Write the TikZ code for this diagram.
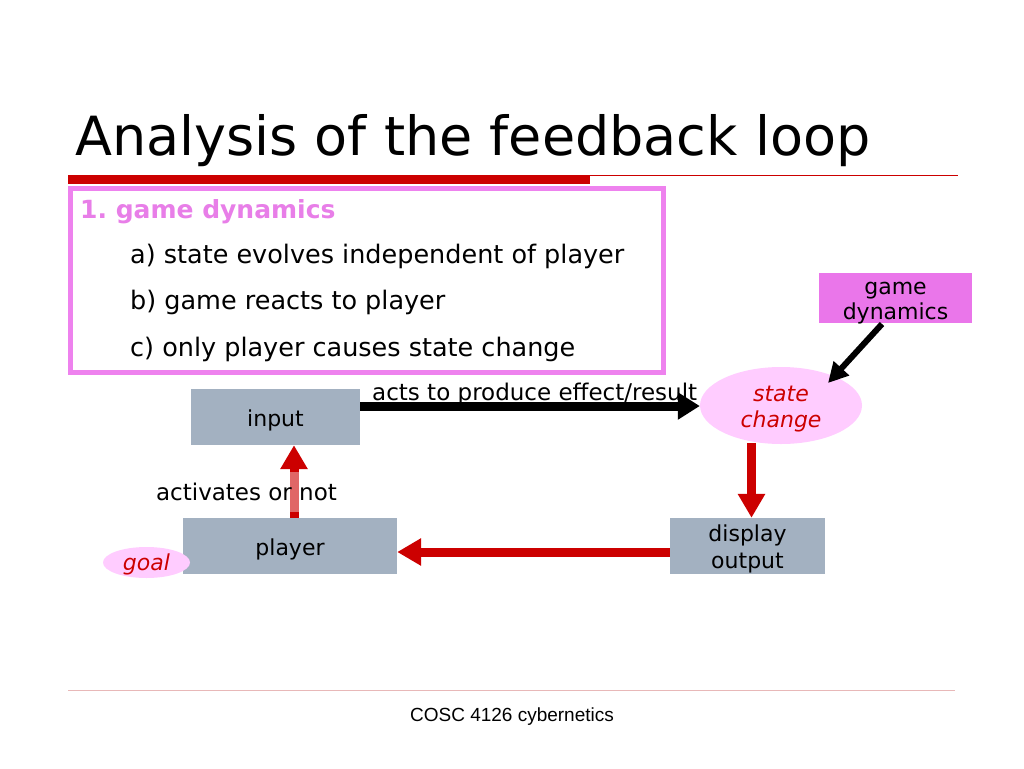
\documentclass[tikz,border=0pt]{standalone}
\usepackage{fontspec}
\setmainfont{DejaVu Sans}
\newfontfamily\footfont{Liberation Sans}
\usetikzlibrary{arrows.meta,shapes.geometric}
\frenchspacing
\definecolor{myred}{HTML}{CC0000}
\definecolor{boxgray}{HTML}{A3B1C1}
\definecolor{violetline}{HTML}{EE82EE}
\definecolor{violetfill}{HTML}{EA76EA}
\definecolor{lightpink}{HTML}{FFCCFF}
\definecolor{headpink}{HTML}{E87EE8}
\definecolor{footline}{HTML}{E8B8B8}
\tikzset{
  graybox/.style={fill=boxgray, inner sep=0pt},
  pinkell/.style={ellipse, fill=lightpink, inner sep=0pt},
  boxlabel/.style={inner sep=0pt, align=center, font=\fontsize{22}{27}\selectfont},
  elllabel/.style={inner sep=0pt, align=center, text=myred, font=\itshape\fontsize{22}{26}\selectfont},
  redarrow/.style={draw=myred, line width=9pt, -{Triangle[length=24pt,width=26pt]}},
  blackarrow/.style={draw=black, line width=9pt, -{Triangle[length=22pt,width=26pt]}},
  diagarrow/.style={draw=black, line width=6pt, -{Triangle[length=20pt,width=20pt]}},
  bodytext/.style={anchor=base west, inner sep=0pt, font=\fontsize{25.5}{30}\selectfont},
  labeltext/.style={anchor=base west, inner sep=0pt, font=\fontsize{23}{28}\selectfont},
}
\begin{document}
\begin{tikzpicture}[x=1pt,y=-1pt]
\useasboundingbox[fill=white] (0,0) rectangle (1024,768);
% title
\node[anchor=base west, inner sep=0pt, font=\fontsize{54}{60}\selectfont] (title) at (75,155) {Analysis of the feedback loop};
\fill[myred] (68,175) rectangle (590,184);
\draw[myred, line width=1pt] (590,175.5) -- (958,175.5);
% topics box
\node[draw=violetline, line width=5pt, minimum width=593pt, minimum height=184pt, inner sep=0pt] (topics) at (366.5,280.5) {};
\node[anchor=base west, inner sep=0pt, text=headpink, font=\bfseries\fontsize{25}{30}\selectfont] (head) at (80,218) {1. game dynamics};
\node[bodytext] (ta) at (130,263) {a) state evolves independent of player};
\node[bodytext] (tb) at (130,309) {b) game reacts to player};
\node[bodytext] (tc) at (130,356) {c) only player causes state change};
% diagram nodes
\node[fill=violetfill, inner sep=0pt, minimum width=153pt, minimum height=50pt] (gd) at (895.5,298) {};
\node[boxlabel, font=\fontsize{22}{25}\selectfont] (gdtext) at ([yshift=-5pt]gd.center) {game\\dynamics};
\node[pinkell, minimum width=162pt, minimum height=77pt] (sc) at (781,405.5) {};
\node[elllabel] (sctext) at ([yshift=-4pt]sc.center) {state\\change};
\node[graybox, minimum width=169pt, minimum height=56pt] (input) at (275.5,417) {};
\node[boxlabel] (inputtext) at ([yshift=-3pt]input.center) {input};
\node[graybox, minimum width=155pt, minimum height=56pt] (disp) at (747.5,546) {};
\node[boxlabel] (disptext) at ([yshift=-3pt]disp.center) {display\\output};
\node[graybox, minimum width=214pt, minimum height=56pt] (player) at (290,546) {};
\node[boxlabel] (playertext) at ([yshift=-3pt]player.center) {player};
\node[pinkell, minimum width=87pt, minimum height=31pt] (goal) at (146.5,562.5) {};
\node[elllabel] (goaltext) at ([yshift=-2pt]goal.center) {goal};
% label drawn beneath its arrow
\node[labeltext] (acts) at (372,400) {acts to produce effect/result};
% connectors
\coordinate (gdout) at (882,324);
\coordinate (scin) at (828,383);
\draw[diagarrow] (gdout) -- (scin);
\draw[blackarrow] (input.east |- 0,406) -- (sc.west |- 0,406);
\draw[redarrow] (751.5,443) -- (disp.north -| 751.5,0);
\draw[redarrow] (disp.west |- 0,552) -- (player.east |- 0,552);
\draw[redarrow] (player.north -| 294,0) -- (input.south -| 294,0);
% label over its arrow
\node[fill=white, fill opacity=0.4, text opacity=1, inner xsep=0pt, minimum height=40pt, font=\fontsize{23}{28}\selectfont] (activ) at (246.5,491.5) {activates or not};
% footer
\draw[footline, line width=1pt] (68,690.5) -- (955,690.5);
\node[anchor=base, inner sep=0pt, font=\footfont\fontsize{19}{22}\selectfont] (foot) at (512,721) {COSC 4126 cybernetics};
\end{tikzpicture}
\end{document}
